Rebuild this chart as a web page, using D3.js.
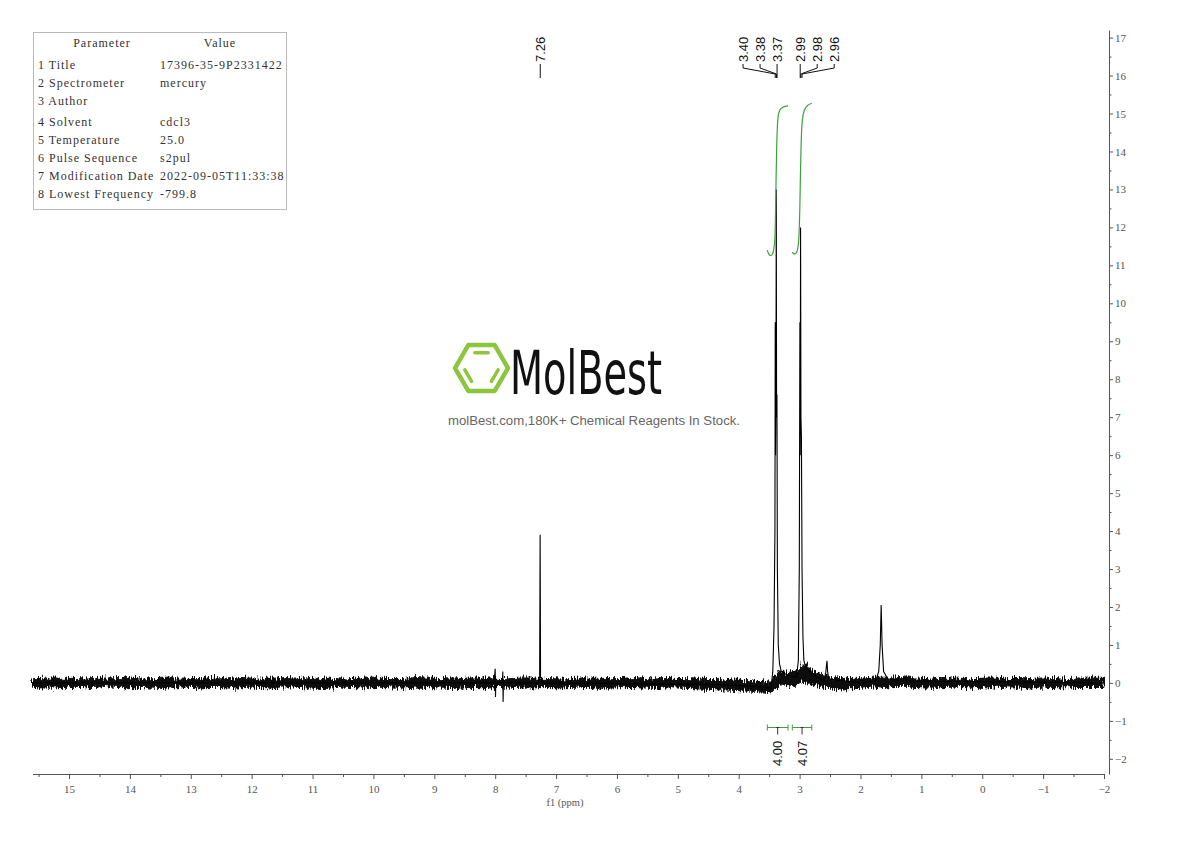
<!DOCTYPE html>
<html>
<head>
<meta charset="utf-8">
<script src="https://cdn.jsdelivr.net/npm/d3@7"></script>
<style>
  body { margin: 0; background: #fff; }
  svg { display: block; }
  .axis text { font-family: "Liberation Serif", serif; font-size: 11px; fill: #555; }
  .axis path, .axis line { stroke: #555; }
  .param { font-family: "Liberation Serif", serif; font-size: 12px; fill: #333; letter-spacing: 1px; }
  .peak-label { font-family: "Liberation Sans", Arial, sans-serif; font-size: 13px; fill: #111; }
</style>
</head>
<body>
<svg id="chart" width="1190" height="841"></svg>
<script>
// ---- data ----
const paramNames = ['1 Title', '2 Spectrometer', '3 Author', '4 Solvent', '5 Temperature',
  '6 Pulse Sequence', '7 Modification Date', '8 Lowest Frequency'];
const paramValues = ['17396-35-9P2331422', 'mercury', '', 'cdcl3', '25.0',
  's2pul', '2022-09-05T11:33:38', '-799.8'];

const xTickLabels = [15, 14, 13, 12, 11, 10, 9, 8, 7, 6, 5, 4, 3, 2, 1, 0, -1, -2];
const yTickLabels = [17, 16, 15, 14, 13, 12, 11, 10, 9, 8, 7, 6, 5, 4, 3, 2, 1, 0, -1, -2];

// spectrum trace [ppm, intensity]
const specPoints = [
  [15.6, 0], [8.02, 0], [8.0, 0.37], [7.995, -0.37], [7.99, 0], [7.88, 0], [7.875, 0.3],
  [7.87, -0.5], [7.865, 0], [7.3, 0], [7.27, 0.15], [7.262, 3.9], [7.255, 0.15], [7.22, 0],
  [4.5, -0.04], [3.6, -0.1], [3.47, -0.13], [3.44, 0.3], [3.42, 1.5], [3.405, 4], [3.40, 9.5],
  [3.395, 6], [3.388, 8], [3.383, 13.0], [3.378, 7], [3.372, 7.6], [3.365, 3], [3.35, 1.0],
  [3.33, 0.5], [3.3, 0.3], [3.2, 0.2], [3.05, 0.15], [3.02, 0.6], [3.005, 3], [2.995, 9.5],
  [2.99, 6], [2.984, 12.0], [2.978, 7], [2.97, 6.5], [2.96, 3], [2.945, 1.2], [2.93, 0.6],
  [2.9, 0.4], [2.8, 0.25], [2.65, 0.1], [2.58, 0.1], [2.56, 0.45], [2.55, 0.58], [2.54, 0.3],
  [2.52, 0.1], [2.0, 0], [1.75, 0.05], [1.7, 0.3], [1.675, 1.0], [1.66, 2.05], [1.645, 1.0],
  [1.62, 0.3], [1.55, 0.1], [1.3, 0.05], [1.27, 0.18], [1.24, 0.05], [-2.0, 0]
];

// baseline noise envelope [ppm, low, high]
const noiseBand = [
  [15.6, -0.12, 0.11], [15.3, -0.14, 0.13], [15.0, -0.11, 0.12], [14.7, -0.13, 0.1],
  [14.4, -0.1, 0.13], [14.1, -0.13, 0.14], [13.8, -0.12, 0.1], [13.5, -0.15, 0.12],
  [13.2, -0.1, 0.13], [12.9, -0.13, 0.11], [12.6, -0.12, 0.15], [12.3, -0.14, 0.1],
  [12.0, -0.11, 0.13], [11.7, -0.13, 0.12], [11.4, -0.1, 0.14], [11.1, -0.13, 0.11],
  [10.8, -0.15, 0.13], [10.5, -0.11, 0.1], [10.2, -0.13, 0.13], [9.9, -0.12, 0.12],
  [9.6, -0.14, 0.11], [9.3, -0.11, 0.14], [9.0, -0.13, 0.12], [8.7, -0.15, 0.1],
  [8.4, -0.12, 0.13], [8.1, -0.13, 0.13], [7.8, -0.11, 0.11], [7.5, -0.14, 0.13],
  [7.2, -0.12, 0.12], [6.9, -0.13, 0.1], [6.6, -0.11, 0.13], [6.3, -0.14, 0.12],
  [6.0, -0.13, 0.11], [5.7, -0.12, 0.14], [5.4, -0.15, 0.1], [5.1, -0.13, 0.12],
  [4.8, -0.15, 0.11], [4.5, -0.17, 0.09], [4.2, -0.19, 0.08], [3.9, -0.21, 0.06],
  [3.6, -0.24, 0.03], [3.47, -0.26, 0.02], [3.33, -0.05, 0.32], [3.2, -0.1, 0.26],
  [3.07, -0.05, 0.3], [2.93, 0.05, 0.5], [2.85, 0.0, 0.4], [2.75, -0.05, 0.3],
  [2.65, -0.1, 0.22], [2.5, -0.14, 0.15], [2.3, -0.16, 0.12], [2.0, -0.14, 0.12],
  [1.8, -0.11, 0.15], [1.5, -0.1, 0.15], [1.3, -0.09, 0.17], [1.1, -0.12, 0.13],
  [0.8, -0.14, 0.1], [0.5, -0.11, 0.13], [0.2, -0.13, 0.11], [-0.1, -0.1, 0.13],
  [-0.4, -0.13, 0.12], [-0.7, -0.14, 0.11], [-1.0, -0.11, 0.13], [-1.3, -0.13, 0.1],
  [-1.6, -0.12, 0.13], [-2.0, -0.12, 0.12]
];

// peak picking groups
const peakGroups = [[7.26], [3.40, 3.38, 3.37], [2.99, 2.98, 2.96]];

// integrals
const intFrom = [3.53, 3.12];
const intTo = [3.19, 2.80];
const intValues = ['4.00', '4.07'];
const intCurves = [
  [[3.53, 11.4], [3.50, 11.28], [3.47, 11.26], [3.44, 11.32], [3.41, 11.6], [3.395, 12.4],
   [3.385, 13.4], [3.375, 14.2], [3.365, 14.65], [3.35, 14.95], [3.32, 15.1], [3.28, 15.16],
   [3.24, 15.19], [3.19, 15.2]],
  [[3.12, 11.35], [3.09, 11.3], [3.06, 11.32], [3.03, 11.45], [3.01, 11.8], [2.995, 12.6],
   [2.985, 13.5], [2.975, 14.2], [2.965, 14.6], [2.94, 14.98], [2.90, 15.15], [2.86, 15.22],
   [2.80, 15.27]]
];

// ---- layout ----
const svg = d3.select('#chart');
const x = d3.scaleLinear().domain([15.6, -2]).range([32.5, 1104]);
const y = d3.scaleLinear().domain([-2.4, 17.2]).range([774, 30]);
const green = '#3f9f3f';

// texture filter so the baseline band reads as noise
const defs = svg.append('defs');
const rough = defs.append('filter').attr('id', 'rough')
  .attr('filterUnits', 'userSpaceOnUse')
  .attr('x', 20).attr('y', 620).attr('width', 1100).attr('height', 110);
rough.append('feTurbulence').attr('type', 'fractalNoise')
  .attr('baseFrequency', '0.9 0.12').attr('numOctaves', 2).attr('seed', 4).attr('result', 'n');
rough.append('feDisplacementMap').attr('in', 'SourceGraphic').attr('in2', 'n')
  .attr('scale', 11).attr('xChannelSelector', 'R').attr('yChannelSelector', 'G');

// watermark
const logo = svg.append('g').attr('transform', 'translate(481.5,368)');
const R = 26.5, r = 17.7;
const hex = d3.range(6).map(k => [R * Math.cos(k * Math.PI / 3), R * Math.sin(k * Math.PI / 3)]);
logo.append('polygon')
  .attr('points', hex.map(p => p.join(',')).join(' '))
  .attr('fill', 'none').attr('stroke', '#8cc63f').attr('stroke-width', 4.5)
  .attr('stroke-linejoin', 'round');
// inner bonds: top, lower-left, lower-right edges
[[4, 5], [2, 3], [0, 1]].forEach(([a, b]) => {
  const pa = [r * Math.cos(a * Math.PI / 3), r * Math.sin(a * Math.PI / 3)];
  const pb = [r * Math.cos(b * Math.PI / 3), r * Math.sin(b * Math.PI / 3)];
  const t0 = 0.12, t1 = 0.88;
  logo.append('line')
    .attr('x1', pa[0] + (pb[0] - pa[0]) * t0).attr('y1', pa[1] + (pb[1] - pa[1]) * t0)
    .attr('x2', pa[0] + (pb[0] - pa[0]) * t1).attr('y2', pa[1] + (pb[1] - pa[1]) * t1)
    .attr('stroke', '#8cc63f').attr('stroke-width', 3.5).attr('stroke-linecap', 'round');
});
svg.append('text')
  .attr('x', 510).attr('y', 394)
  .attr('textLength', 152).attr('lengthAdjust', 'spacingAndGlyphs')
  .style('font-family', '"Liberation Sans Narrow", "DejaVu Sans Condensed", sans-serif')
  .style('font-size', '60px').style('fill', '#111')
  .text('MolBest');
svg.append('text')
  .attr('x', 448).attr('y', 425)
  .attr('textLength', 292).attr('lengthAdjust', 'spacingAndGlyphs')
  .style('font-family', '"Liberation Sans", Arial, sans-serif')
  .style('font-size', '12.5px').style('fill', '#666')
  .text('molBest.com,180K+ Chemical Reagents In Stock.');

// parameter table
const table = svg.append('g');
table.append('rect')
  .attr('x', 33.5).attr('y', 32.5).attr('width', 253).attr('height', 177)
  .attr('fill', 'none').attr('stroke', '#bbb');
table.append('text').attr('class', 'param').attr('x', 102).attr('y', 47)
  .attr('text-anchor', 'middle').text('Parameter');
table.append('text').attr('class', 'param').attr('x', 220).attr('y', 47)
  .attr('text-anchor', 'middle').text('Value');
const rowY = i => 69 + i * 17.8 + (i >= 3 ? 4 : 0);
table.selectAll('.pname').data(paramNames).enter().append('text')
  .attr('class', 'param pname').attr('x', 38).attr('y', (d, i) => rowY(i)).text(d => d);
table.selectAll('.pval').data(paramValues).enter().append('text')
  .attr('class', 'param pval').attr('x', 160).attr('y', (d, i) => rowY(i)).text(d => d);

// x axis
const xAxisG = svg.append('g').attr('class', 'axis').attr('transform', 'translate(0,774)');
xAxisG.call(d3.axisBottom(x).tickValues(xTickLabels).tickSize(5).tickSizeOuter(0)
  .tickPadding(6).tickFormat(d3.format('d')));
const xMinor = [15.5].concat(xTickLabels.slice(0, -1).map(d => d - 0.5));
svg.append('g').attr('class', 'axis').attr('transform', 'translate(0,774)')
  .call(d3.axisBottom(x).tickValues(xMinor).tickSize(3).tickFormat(''))
  .select('.domain').remove();
svg.append('text')
  .attr('x', 565).attr('y', 806).attr('text-anchor', 'middle')
  .style('font-family', '"Liberation Serif", serif').style('font-size', '10.5px').style('fill', '#555')
  .text('f1 (ppm)');

// y axis (right)
svg.append('g').attr('class', 'axis').attr('transform', 'translate(1109,0)')
  .call(d3.axisRight(y).tickValues(yTickLabels).tickSize(4).tickSizeOuter(0)
    .tickPadding(2).tickFormat(d3.format('d')));
const yMinor = yTickLabels.slice(1).map(d => d + 0.5);
svg.append('g').attr('class', 'axis').attr('transform', 'translate(1109,0)')
  .call(d3.axisRight(y).tickValues(yMinor).tickSize(2.5).tickFormat(''))
  .select('.domain').remove();

// baseline noise band
svg.append('path')
  .datum(noiseBand)
  .attr('fill', '#111')
  .attr('stroke', '#111').attr('stroke-width', 1)
  .attr('filter', 'url(#rough)')
  .attr('d', d3.area().x(d => x(d[0])).y0(d => y(d[1])).y1(d => y(d[2])));

// spectrum
svg.append('path')
  .datum(specPoints)
  .attr('fill', 'none').attr('stroke', '#000').attr('stroke-width', 1.1)
  .attr('d', d3.line().x(d => x(d[0])).y(d => y(d[1])));

// integral curves
svg.selectAll('.integral').data(intCurves).enter().append('path')
  .attr('class', 'integral')
  .attr('fill', 'none').attr('stroke', green).attr('stroke-width', 1.2)
  .attr('d', d3.line().x(d => x(d[0])).y(d => y(d[1])).curve(d3.curveMonotoneX));

// integral brackets and values
const bracketY = 727.5;
intValues.forEach((v, i) => {
  const x0 = x(intFrom[i]), x1 = x(intTo[i]), xc = (x0 + x1) / 2;
  const g = svg.append('g');
  g.append('line').attr('x1', x0).attr('x2', x1).attr('y1', bracketY).attr('y2', bracketY)
    .attr('stroke', green);
  [x0, x1].forEach(xe => g.append('line').attr('x1', xe).attr('x2', xe)
    .attr('y1', bracketY - 3).attr('y2', bracketY + 3).attr('stroke', green));
  g.append('line').attr('x1', xc - 1.5).attr('x2', xc + 1.5).attr('y1', bracketY).attr('y2', bracketY)
    .attr('stroke', '#333');
  g.append('line').attr('x1', xc).attr('x2', xc).attr('y1', bracketY).attr('y2', bracketY + 7)
    .attr('stroke', '#333');
  g.append('text').attr('class', 'peak-label')
    .attr('transform', `translate(${xc},766) rotate(-90)`).attr('dy', '0.35em')
    .text(v);
});

// peak labels
const labelSpread = [0, -1, 1];
const labelGap = 17;
const fmt = d3.format('.2f');
peakGroups.forEach((grp, gi) => {
  const n = grp.length;
  const dir = labelSpread[gi];
  const anchorX = dir < 0 ? x(grp[n - 1]) : x(grp[0]);
  grp.forEach((ppm, i) => {
    const lx = dir < 0 ? anchorX + (i - (n - 1)) * labelGap : anchorX + i * dir * labelGap;
    const px = x(ppm);
    svg.append('path')
      .attr('d', `M${lx},64L${lx},68L${px},74L${px},78`)
      .attr('fill', 'none').attr('stroke', '#111').attr('stroke-width', 1);
    svg.append('text').attr('class', 'peak-label')
      .attr('transform', `translate(${lx},62) rotate(-90)`).attr('dy', '0.35em')
      .text(fmt(ppm));
  });
});
</script>
</body>
</html>
